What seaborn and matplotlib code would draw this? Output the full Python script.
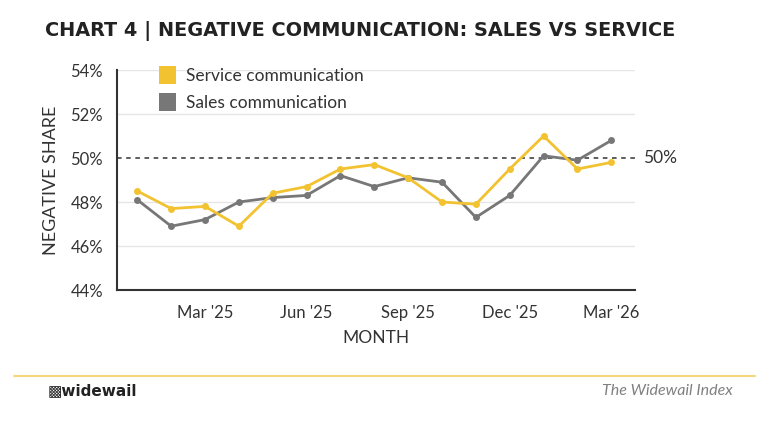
import matplotlib
matplotlib.use("Agg")
import matplotlib.pyplot as plt
import seaborn as sns
import pandas as pd
from matplotlib.lines import Line2D
from matplotlib.patches import Patch

months = ["Jan '25", "Feb '25", "Mar '25", "Apr '25", "May '25", "Jun '25", "Jul '25",
          "Aug '25", "Sep '25", "Oct '25", "Nov '25", "Dec '25", "Jan '26", "Feb '26", "Mar '26"]
service = [48.5, 47.7, 47.8, 46.9, 48.4, 48.7, 49.5, 49.7, 49.1, 48.0, 47.9, 49.5, 51.0, 49.5, 49.8]
sales = [48.1, 46.9, 47.2, 48.0, 48.2, 48.3, 49.2, 48.7, 49.1, 48.9, 47.3, 48.3, 50.1, 49.9, 50.8]
tick_labels = ["Mar '25", "Jun '25", "Sep '25", "Dec '25", "Mar '26"]
yticks = [44, 46, 48, 50, 52, 54]

sns.set_theme(style="white")
plt.rcParams['font.family'] = ['Lato', 'DejaVu Sans']

df = pd.DataFrame({
    "idx": list(range(len(months))) * 2,
    "value": service + sales,
    "series": ["Service communication"] * len(months) + ["Sales communication"] * len(months),
})

colors = {"Service communication": "#F2C230", "Sales communication": "#777777"}

fig = plt.figure(figsize=(7.68, 4.32), dpi=100)
ax = fig.add_axes([117/768, 1 - 290/432, (635-117)/768, (290-70)/432])

for yv in yticks:
    if yv not in (44, 50):
        ax.axhline(yv, color="#e6e6e6", lw=1, zorder=0)
ax.axhline(50, color="#333333", lw=1.1, ls=(0, (3, 3)), zorder=1)

sns.lineplot(data=df, x="idx", y="value", hue="series", palette=colors,
             marker="o", markersize=5, markeredgewidth=0, lw=2, ax=ax, legend=False,
             hue_order=["Sales communication", "Service communication"])

ax.set_xlim(-0.6, 14.7)
ax.set_ylim(44, 54)
ax.set_yticks(yticks)
ax.set_yticklabels([f"{v}%" for v in yticks])
ax.set_xticks([months.index(t) for t in tick_labels])
ax.set_xticklabels(tick_labels)
ax.tick_params(axis="x", length=0, labelsize=12, colors="#333333", pad=11)
ax.tick_params(axis="y", length=0, labelsize=12, colors="#333333", pad=10)
for s in ["top", "right"]:
    ax.spines[s].set_visible(False)
for s in ["left", "bottom"]:
    ax.spines[s].set_color("#333333")
    ax.spines[s].set_linewidth(1.5)

ax.set_xlabel("MONTH", fontsize=12.5, color="#333333", labelpad=6)
ax.set_ylabel("NEGATIVE SHARE", fontsize=13, color="#333333", labelpad=8)

ax.text(14.95, 50, "50%", va="center", ha="left", fontsize=12.5, color="#333333")

handles = [Patch(facecolor=colors["Service communication"], edgecolor="none"),
           Patch(facecolor=colors["Sales communication"], edgecolor="none")]
ax.legend(handles, ["Service communication", "Sales communication"],
          loc="upper left", bbox_to_anchor=(0.05, 1.09), frameon=False,
          fontsize=12.5, handlelength=1.0, handleheight=1.2, handletextpad=0.6,
          labelspacing=0.55, labelcolor="#333333")

fig.text(45/768, 1 - 31/432, "CHART 4 | NEGATIVE COMMUNICATION: SALES VS SERVICE",
         fontsize=13.9, fontweight="bold", color="#222222", va="center", ha="left",
         family=["DejaVu Sans"])

fig.add_artist(Line2D([14/768, 755/768], [1 - 376/432, 1 - 376/432],
                      color="#F3D77A", lw=1.5))
fig.text(48/768, 1 - 391/432, "\u25a9widewail", fontsize=11, fontweight="bold",
         color="#222222", va="center", ha="left", family=["DejaVu Sans"])
fig.text(733/768, 1 - 391/432, "The Widewail Index", fontsize=11.5, style="italic",
         color="#808080", va="center", ha="right")

fig.savefig("out.png", dpi=100)
